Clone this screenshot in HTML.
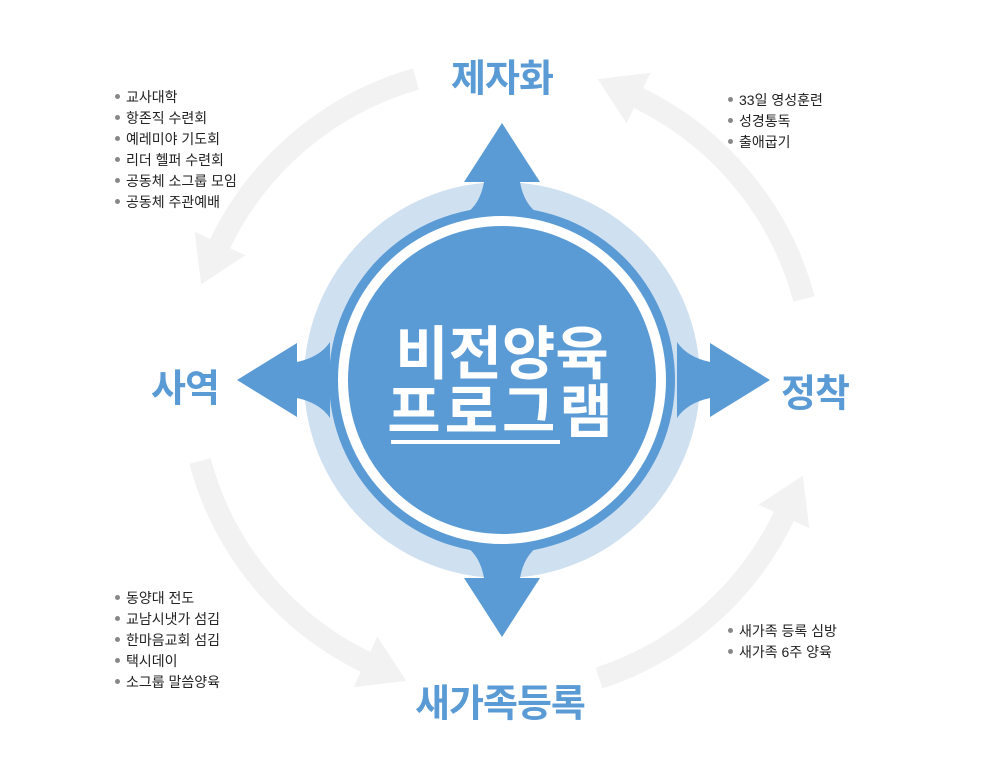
<!DOCTYPE html>
<html><head><meta charset="utf-8"><style>
body{margin:0;width:1000px;height:776px;background:#fff;overflow:hidden;position:relative;font-family:"Liberation Sans","Noto Sans CJK KR",sans-serif}
svg{position:absolute;left:0;top:0}
ul{position:absolute;margin:0;padding:0;list-style:none;font-size:14px;line-height:21px;color:#222}
li:before{content:"";display:inline-block;width:5px;height:5px;border-radius:50%;background:#888;margin:0 6px 3px 0;vertical-align:middle}
.t{position:absolute;font-weight:bold;color:#5b9bd5;font-size:38px;transform:translate(-50%,-50%);white-space:nowrap;letter-spacing:-1px}
.c{position:absolute;color:#fff;font-weight:bold;font-size:58px;left:502px;transform:translateX(-50%);white-space:nowrap;line-height:1}
</style></head><body>
<svg width="1000" height="776">
<defs><marker id="m" markerUnits="userSpaceOnUse" markerWidth="60" markerHeight="70" refX="5" refY="35" orient="auto"><path d="M0,7 L45,35 L0,63 Z" fill="#f2f2f2"/></marker></defs>
<g fill="none" stroke="#f2f2f2" stroke-width="22" marker-end="url(#m)">
<path d="M416,79 A313,313 0 0 0 218,248"/>
<path d="M804,299 A313,313 0 0 0 634,96"/>
<path d="M599,678 A313,313 0 0 0 786,512"/>
<path d="M200,461 A313,313 0 0 0 370,664"/>
</g>
<circle cx="502" cy="380" r="198" fill="#cfe0f1"/>
<g fill="#5b9bd5">
<path d="M502,123 L540,182 L520,182 Q524,205 540,215 L464,215 Q480,205 484,182 L464,182 Z"/>
<path d="M502,637 L540,578 L520,578 Q524,555 540,545 L464,545 Q480,555 484,578 L464,578 Z"/>
<path d="M237,380 L297,343 L297,362 Q320,357 330,342 L330,418 Q320,403 297,398 L297,417 Z"/>
<path d="M770,380 L710,343 L710,362 Q687,357 677,342 L677,418 Q687,403 710,398 L710,417 Z"/>
</g>
<circle cx="502" cy="380" r="173" fill="#5b9bd5"/>
<circle cx="502" cy="380" r="159" fill="none" stroke="#fff" stroke-width="10"/>
<line x1="391" y1="442" x2="560" y2="442" stroke="#fff" stroke-width="4"/>
</svg>
<div class="t" style="left:502px;top:75px">제자화</div>
<div class="t" style="left:815px;top:390px">정착</div>
<div class="t" style="left:185px;top:385px">사역</div>
<div class="t" style="left:500px;top:700px">새가족등록</div>
<div class="c" style="top:326px">비전양육</div>
<div class="c" style="top:384px;letter-spacing:4px">프로그램</div>
<ul style="left:115px;top:87px"><li>교사대학</li><li>항존직 수련회</li><li>예레미야 기도회</li><li>리더 헬퍼 수련회</li><li>공동체 소그룹 모임</li><li>공동체 주관예배</li></ul>
<ul style="left:728px;top:90px"><li>33일 영성훈련</li><li>성경통독</li><li>출애굽기</li></ul>
<ul style="left:115px;top:588px"><li>동양대 전도</li><li>교남시냇가 섬김</li><li>한마음교회 섬김</li><li>택시데이</li><li>소그룹 말씀양육</li></ul>
<ul style="left:728px;top:621px"><li>새가족 등록 심방</li><li>새가족 6주 양육</li></ul>
</body></html>
